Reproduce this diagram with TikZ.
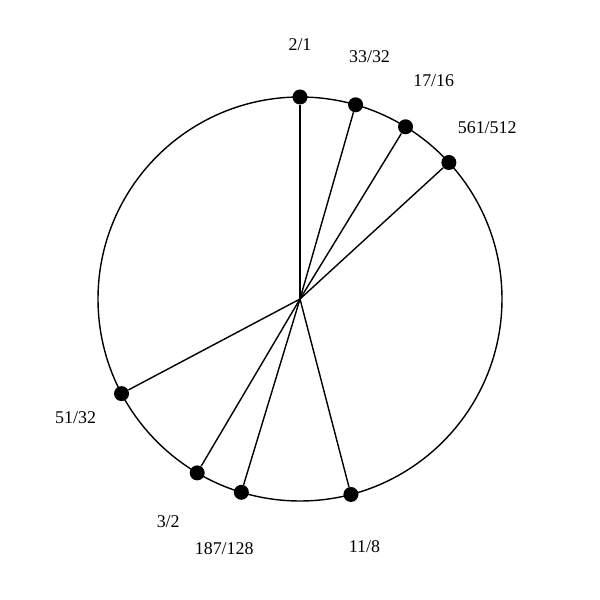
\documentclass[tikz,border=0pt]{standalone}
\usepackage{fontspec}
\setmainfont{Liberation Serif}
\usepackage{tikz}
\usetikzlibrary{calc}

\begin{document}
\begin{tikzpicture}[
  dot/.style={circle, fill=black, inner sep=0pt, minimum size=0.3cm},
  lab/.style={font=\fontsize{10.2}{12}\selectfont, inner sep=0pt},
  spoke/.style={line width=0.8pt}
]
  \useasboundingbox (0,0) rectangle (12,12);
  \coordinate (c) at (6,6.02);
  \draw[spoke] (c) circle (4.04cm);
  % dots at 90 - 360*log2(ratio)
  \node[dot] (r21)  at ($(c)+(90:4.04)$) {};
  \node[dot] (r3332) at ($(c)+(74.02:4.04)$) {};
  \node[dot] (r1716) at ($(c)+(58.51:4.04)$) {};
  \node[dot] (r561) at ($(c)+(42.51:4.04)$) {};
  \node[dot] (r5132) at ($(c)+(207.93:4.04)$) {};
  \node[dot] (r32)  at ($(c)+(239.41:4.04)$) {};
  \node[dot] (r187) at ($(c)+(253.12:4.04)$) {};
  \node[dot] (r118) at ($(c)+(284.60:4.04)$) {};
  % labels
  \node[lab] (l21)  at ($(c)+(90:5.08)$) {2/1};
  \node[lab] (l3332) at ($(c)+(74.02:5.05)$) {33/32};
  \node[lab] (l1716) at ($(c)+(58.51:5.12)$) {17/16};
  \node[lab] (l561) at ($(c)+(42.51:5.08)$) {561/512};
  \node[lab] (l5132) at ($(c)+(207.93:5.08)$) {51/32};
  \node[lab] (l32)  at ($(c)+(239.41:5.18)$) {3/2};
  \node[lab] (l187) at ($(c)+(253.12:5.22)$) {187/128};
  \node[lab] (l118) at ($(c)+(284.60:5.12)$) {11/8};
  \foreach \n in {r21,r3332,r1716,r561,r5132,r32,r187,r118}
    \draw[spoke] (c) -- (\n);
\end{tikzpicture}
\end{document}
